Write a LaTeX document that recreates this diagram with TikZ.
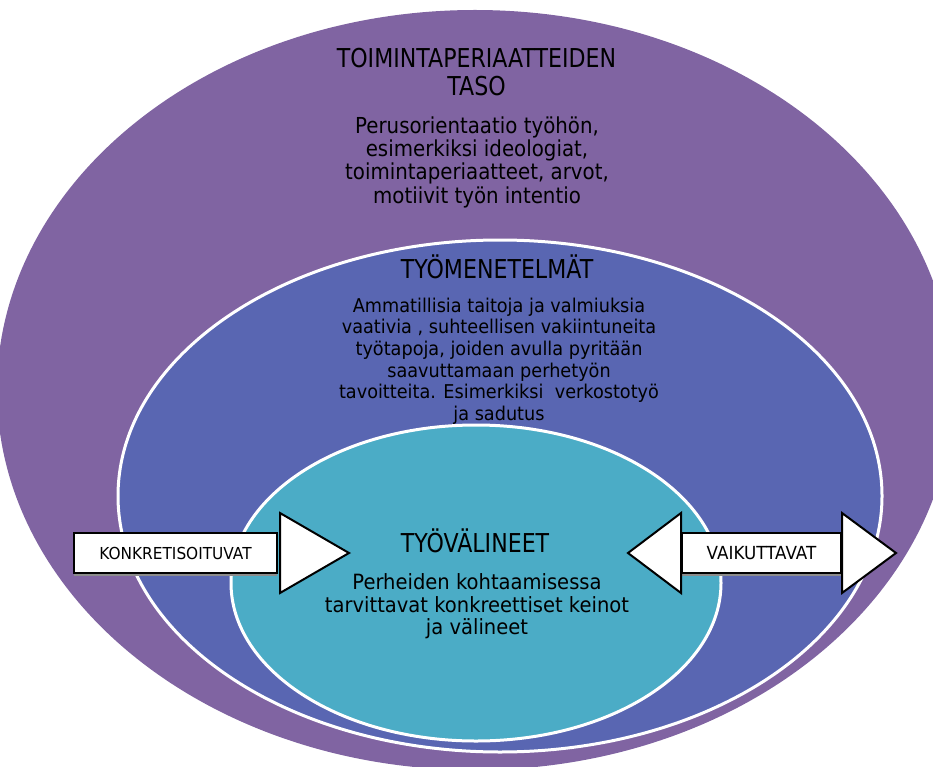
\documentclass[tikz,border=0pt]{standalone}
\usepackage{fontspec}
\setmainfont{DejaVu Sans}[FakeStretch=0.93]
\newfontfamily\titlefont{DejaVu Sans}[FakeStretch=0.85]
\newfontfamily\outerfont{DejaVu Sans}[FakeStretch=0.9]
\usetikzlibrary{positioning, shapes.geometric, shadows}

\definecolor{levelpurple}{RGB}{128,100,162}
\definecolor{levelblue}{RGB}{89,102,178}
\definecolor{levelteal}{RGB}{75,172,198}

\begin{document}
\begin{tikzpicture}[x=1pt, y=-1pt,
  level/.style={ellipse, inner sep=0pt},
  ring/.style={draw=white, line width=3pt},
  heading/.style={font=\titlefont\fontsize{26}{28.5}\selectfont, align=center, inner sep=0pt},
  tagbox/.style={draw, line width=2pt, fill=white, inner sep=0pt,
    drop shadow={shadow xshift=0pt, shadow yshift=-3pt, fill=black!45, opacity=1}},
  arrowhead/.style={draw, line width=2pt, fill=white, line join=miter}]
  \useasboundingbox (0,0) rectangle (933,767);

  % Toimintaperiaatteiden taso
  \node[level, fill=levelpurple, minimum width=956pt, minimum height=760pt] (outer) at (475,390) {};
  % Tyomenetelmat
  \node[level, ring, fill=levelblue, minimum width=764pt, minimum height=512pt] (middle) at (500,496) {};
  % Tyovalineet
  \node[level, ring, fill=levelteal, minimum width=490pt, minimum height=316pt] (inner) at (476,583) {};

  % Texts
  \node[heading] (outertitle) at (476.5,72) {TOIMINTAPERIAATTEIDEN\\TASO};
  \node[font=\outerfont\fontsize{22}{23.3}\selectfont, align=center, inner sep=0pt] (outerbody) at (477,162) {Perusorientaatio työhön,\\esimerkiksi ideologiat,\\toimintaperiaatteet, arvot,\\motiivit työn intentio};

  \node[heading] (midtitle) at (497,266.5) {TYÖMENETELMÄT};
  \node[font=\fontsize{19}{21.6}\selectfont, align=center, inner sep=0pt] (midbody) at (499,361) {Ammatillisia taitoja ja valmiuksia\\vaativia , suhteellisen vakiintuneita\\työtapoja, joiden avulla pyritään\\saavuttamaan perhetyön\\tavoitteita. Esimerkiksi~ verkostotyö\\ja sadutus};

  \node[heading] (innertitle) at (475,540.5) {TYÖVÄLINEET};
  \node[font=\fontsize{21}{22.5}\selectfont, align=center, inner sep=0pt] (innerbody) at (477,606.5) {Perheiden kohtaamisessa\\tarvittavat konkreettiset keinot\\ja välineet};

  % Block arrows
  \node[tagbox, minimum width=203pt, minimum height=40pt, font=\fontsize{16.5}{18}\selectfont] (konk) at (175.5,553) {KONKRETISOITUVAT};
  \draw[arrowhead] ([xshift=2pt]konk.east) ++(0,-40) -- ++(69,40) -- ++(-69,40) -- cycle;

  \node[tagbox, minimum width=159pt, minimum height=40pt, font=\fontsize{18}{19}\selectfont] (vaik) at (761.5,553) {VAIKUTTAVAT};
  \draw[arrowhead] (vaik.west) ++(0,-40) -- ++(-53,40) -- ++(53,40) -- cycle;
  \draw[arrowhead] (vaik.east) ++(0,-40) -- ++(54,40) -- ++(-54,40) -- cycle;
\end{tikzpicture}
\end{document}
